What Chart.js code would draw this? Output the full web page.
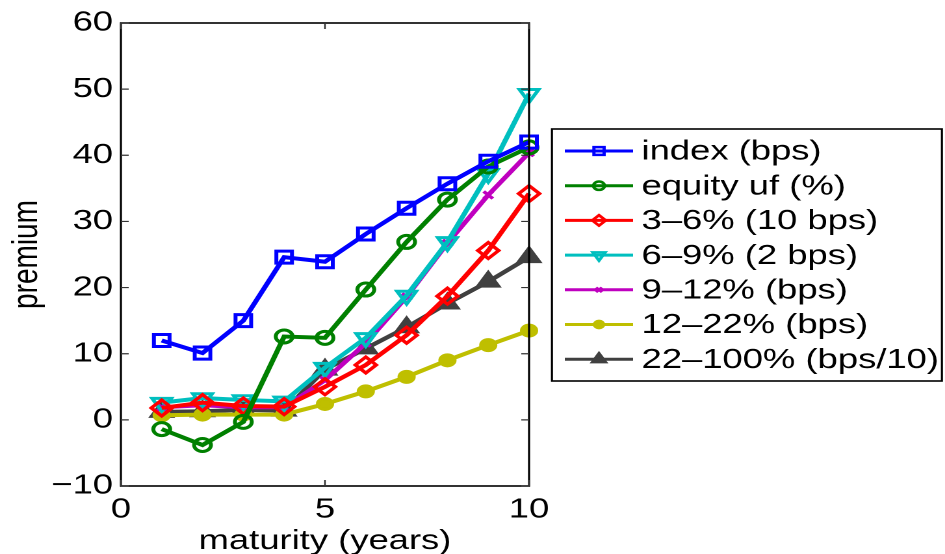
<!DOCTYPE html>
<html>
<head>
<meta charset="utf-8">
<script src="https://cdn.jsdelivr.net/npm/chart.js@4/dist/chart.umd.min.js"></script>
<style>
  body { margin: 0; background: #fff; }
  #wrap { width: 945px; height: 554px; overflow: hidden; }
  /* the original figure is stretched sideways, so draw narrow and widen */
  #premiumChart { width: 727px; height: 554px; transform: scaleX(1.2999); transform-origin: 0 0; }
</style>
</head>
<body>
<div id="wrap"><canvas id="premiumChart" width="727" height="554"></canvas></div>
<script>
// premium by maturity

const maturity = [1, 2, 3, 4, 5, 6, 7, 8, 9, 10];
const indexBps = [12.0, 10.1, 15.0, 24.6, 23.9, 28.1, 32.0, 35.7, 39.1, 42.0];
const equityUf = [-1.4, -3.8, -0.3, 12.6, 12.4, 19.7, 26.9, 33.3, 38.3, 41.2];
const tr3to6 = [1.8, 2.6, 2.1, 2.0, 5.0, 8.3, 12.8, 18.7, 25.6, 34.2];
const tr6to9 = [2.6, 3.3, 3.0, 2.8, 7.9, 12.4, 18.8, 26.9, 37.2, 49.3];
const tr9to12 = [1.9, 2.2, 1.9, 1.9, 6.0, 11.6, 18.6, 26.7, 34.0, 40.4];
const tr12to22 = [0.7, 0.8, 0.8, 0.8, 2.4, 4.3, 6.5, 9.0, 11.3, 13.5];
const tr22to100 = [1.2, 1.3, 1.5, 1.4, 7.6, 10.8, 14.0, 17.6, 20.9, 24.6];

const xTicks = [0, 5, 10];
const yTicks = [-10, 0, 10, 20, 30, 40, 50, 60];

const FONT = "'Liberation Sans', Arial, Helvetica, sans-serif";
Chart.defaults.font.family = FONT;
Chart.defaults.font.size = 28;
Chart.defaults.color = '#000';

function pts(ys) {
  return maturity.map((x, i) => ({ x: x, y: ys[i] }));
}

function series(label, ys, color, style, radius, fill, rot) {
  return {
    label: label,
    data: pts(ys),
    borderColor: color,
    backgroundColor: color,
    borderWidth: 4,
    pointStyle: style,
    pointRadius: radius,
    pointRotation: rot || 0,
    pointBorderColor: color,
    pointBackgroundColor: fill ? color : 'rgba(0,0,0,0)',
    pointBorderWidth: 3,
    tension: 0,
    clip: false
  };
}

// own little marker painter, used for the legend
function marker(ctx, style, x, y, r, color, fill, rot) {
  ctx.save();
  ctx.strokeStyle = color;
  ctx.fillStyle = color;
  ctx.lineWidth = 2.5;
  ctx.beginPath();
  if (style === 'rect') {
    const s = r * Math.SQRT1_2;
    ctx.rect(x - s, y - s, 2 * s, 2 * s);
  } else if (style === 'circle') {
    ctx.arc(x, y, r, 0, Math.PI * 2);
  } else if (style === 'rectRot') {
    ctx.moveTo(x - r, y); ctx.lineTo(x, y - r); ctx.lineTo(x + r, y); ctx.lineTo(x, y + r);
    ctx.closePath();
  } else if (style === 'triangle') {
    const d = rot ? -1 : 1;
    ctx.moveTo(x, y - d * r);
    ctx.lineTo(x + r * 0.866, y + d * r * 0.5);
    ctx.lineTo(x - r * 0.866, y + d * r * 0.5);
    ctx.closePath();
  } else if (style === 'crossRot') {
    const s = r * 0.7;
    ctx.moveTo(x - s, y - s); ctx.lineTo(x + s, y + s);
    ctx.moveTo(x + s, y - s); ctx.lineTo(x - s, y + s);
  }
  if (fill) ctx.fill();
  ctx.stroke();
  ctx.restore();
}

const framePlugin = {
  id: 'frame',
  afterDatasetsDraw(chart) {
    const { ctx, chartArea: a, scales } = chart;
    ctx.save();
    ctx.strokeStyle = '#000';
    ctx.lineWidth = 1.6;
    ctx.strokeRect(a.left, a.top, a.right - a.left, a.bottom - a.top);
    ctx.lineWidth = 1.2;
    ctx.strokeStyle = '#333';
    ctx.beginPath();
    yTicks.forEach(v => {
      const y = scales.y.getPixelForValue(v);
      ctx.moveTo(a.left, y); ctx.lineTo(a.left + 6, y);
      ctx.moveTo(a.right, y); ctx.lineTo(a.right - 6, y);
    });
    xTicks.forEach(v => {
      const x = scales.x.getPixelForValue(v);
      ctx.moveTo(x, a.bottom); ctx.lineTo(x, a.bottom - 6);
      ctx.moveTo(x, a.top); ctx.lineTo(x, a.top + 6);
    });
    ctx.stroke();
    ctx.restore();
  }
};

const legendBox = {
  id: 'legendBox',
  afterDraw(chart) {
    const ctx = chart.ctx;
    const left = 424.6, top = 129, right = 724.6, bottom = 381;
    const rowH = 34.7, firstRow = 151;
    ctx.save();
    ctx.fillStyle = '#fff';
    ctx.fillRect(left, top, right - left, bottom - top);
    ctx.strokeStyle = '#000';
    ctx.lineWidth = 1.6;
    ctx.strokeRect(left, top, right - left, bottom - top);
    ctx.font = '28px ' + FONT;
    ctx.textBaseline = 'middle';
    ctx.textAlign = 'left';
    chart.data.datasets.forEach((ds, i) => {
      const y = firstRow + i * rowH;
      ctx.strokeStyle = ds.borderColor;
      ctx.lineWidth = 3;
      ctx.beginPath();
      ctx.moveTo(434.5, y); ctx.lineTo(487, y);
      ctx.stroke();
      const filled = ds.pointBackgroundColor !== 'rgba(0,0,0,0)';
      marker(ctx, ds.pointStyle, 460.8, y, ds.pointRadius * 0.65, ds.borderColor, filled, ds.pointRotation);
      ctx.fillStyle = '#000';
      ctx.fillText(ds.label, 493.5, y + 1);
    });
    ctx.restore();
  }
};

new Chart(document.getElementById('premiumChart'), {
  type: 'line',
  data: {
    datasets: [
      series('index (bps)', indexBps, '#0000ff', 'rect', 8.5, false),
      series('equity uf (%)', equityUf, '#008000', 'circle', 6.5, false),
      series('3\u20136% (10 bps)', tr3to6, '#ff0000', 'rectRot', 8, false),
      series('6\u20139% (2 bps)', tr6to9, '#00bfbf', 'triangle', 8.5, false, 180),
      series('9\u201312% (bps)', tr9to12, '#bf00bf', 'crossRot', 5, false),
      series('12\u201322% (bps)', tr12to22, '#bfbf00', 'circle', 5.5, true),
      series('22\u2013100% (bps/10)', tr22to100, '#404040', 'triangle', 9, true)
    ]
  },
  options: {
    responsive: false,
    animation: false,
    devicePixelRatio: 2,
    layout: { padding: { top: 23, right: 320, left: 0, bottom: 0 } },
    plugins: {
      legend: { display: false },
      tooltip: { enabled: false }
    },
    scales: {
      x: {
        type: 'linear',
        min: 0,
        max: 10,
        afterFit: (s) => { s.height = 68; },
        afterBuildTicks: (s) => { s.ticks = xTicks.map(v => ({ value: v })); },
        grid: { display: false, drawTicks: false },
        border: { display: false },
        ticks: { padding: 7, maxRotation: 0 },
        title: { display: true, text: 'maturity (years)', padding: { top: 0, bottom: -4 } }
      },
      y: {
        min: -10,
        max: 60,
        afterFit: (s) => { s.width = 93; },
        afterBuildTicks: (s) => { s.ticks = yTicks.map(v => ({ value: v })); },
        grid: { display: false, drawTicks: false },
        border: { display: false },
        ticks: {
          padding: 6,
          callback: (v) => String(v).replace('-', '\u2212')
        },
        title: { display: true, text: 'premium', padding: { top: 4, bottom: 0 } }
      }
    }
  },
  plugins: [framePlugin, legendBox]
});
</script>
</body>
</html>
